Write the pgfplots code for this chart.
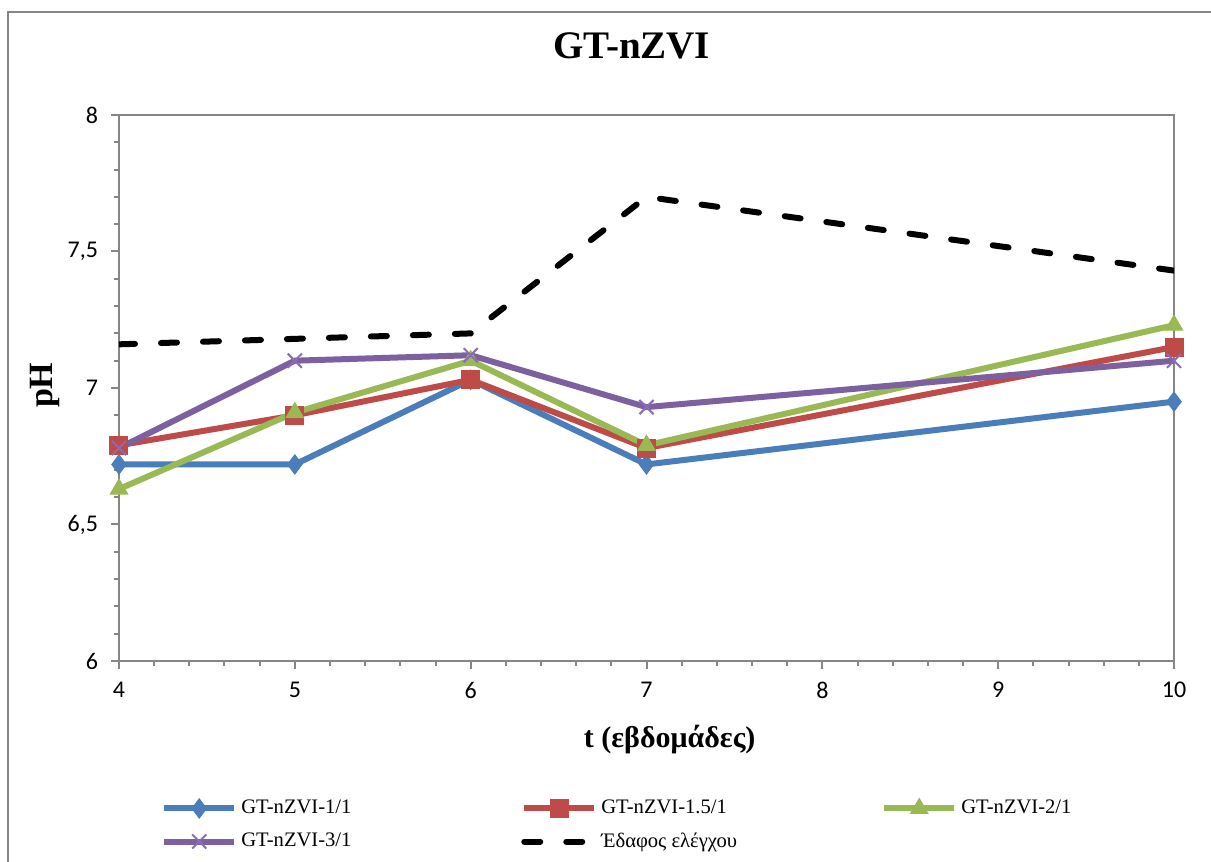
\documentclass[border=0pt]{standalone}
\usepackage{fontspec}
\setmainfont{Liberation Serif}
\newfontfamily\tickfont{Carlito}
\usepackage{pgfplots}
\pgfplotsset{compat=1.18}
\definecolor{cblue}{HTML}{4A7EBB}
\definecolor{cred}{HTML}{BE4B48}
\definecolor{cgreen}{HTML}{98B954}
\definecolor{cpurple}{HTML}{7D60A0}
\definecolor{cpurplemark}{HTML}{8A6CB4}
\definecolor{axgray}{HTML}{868686}
\begin{document}
\begin{tikzpicture}
\useasboundingbox (-59.5pt,-100.5pt) rectangle (546pt,330.5pt);
\draw[axgray, line width=1pt] (-55.5pt,-300pt) -- (-55.5pt,324.5pt) -- (800pt,324.5pt);
\begin{axis}[
  scale only axis, width=527.5pt, height=273pt,
  xmin=4, xmax=10, ymin=6, ymax=8,
  xtick={4,5,6,7,8,9,10}, ytick={6,6.5,7,7.5,8},
  minor x tick num=4, minor y tick num=4,
  tick pos=left, tick align=outside,
  major tick length=4pt, minor tick length=2.5pt,
  every tick/.style={axgray, line width=1pt},
  axis line style={axgray, line width=1pt},
  ticklabel style={font=\tickfont\fontsize{12}{14}\selectfont, text=black},
  yticklabel style={xshift=-3pt},
  xticklabel style={yshift=-3pt},
  /pgf/number format/assume math mode=true,
  /pgf/number format/use comma,
  title={GT-nZVI},
  title style={font=\bfseries\fontsize{19.5}{22}\selectfont, at={(axis description cs:0.486,1.104)}, anchor=center},
  xlabel={t (εβδομάδες)},
  xlabel style={font=\bfseries\fontsize{15}{17}\selectfont, at={(axis description cs:0.522,-0.1447)}, anchor=center},
  ylabel={pH},
  ylabel style={font=\bfseries\fontsize{17}{20}\selectfont, at={(axis description cs:-0.0701,0.505)}, anchor=center},
  legend columns=3,
  legend cell align=left,
  legend style={draw=none, fill=none, at={(axis description cs:0.034,-0.2395)}, anchor=north west,
    font=\fontsize{10.3}{12}\selectfont, row sep=4pt,
    /tikz/every even column/.append style={column sep=1pt}},
  legend image code/.code={\draw[mark repeat=2, mark phase=2] plot coordinates {(0pt,0pt) (17.5pt,0pt) (35pt,0pt)};},
]
\addplot[cblue, line width=3pt, mark=diamond*, mark size=4.8pt, mark options={solid, line width=0.5pt}]
  coordinates {(4,6.72)(5,6.72)(6,7.03)(7,6.72)(10,6.95)};
\addlegendentry{\makebox[137pt][l]{GT-nZVI-1/1}}
\addplot[cred, line width=3pt, mark=square*, mark size=4.5pt, mark options={solid, line width=0.5pt}]
  coordinates {(4,6.79)(5,6.90)(6,7.03)(7,6.78)(10,7.15)};
\addlegendentry{\makebox[137pt][l]{GT-nZVI-1.5/1}}
\addplot[cgreen, line width=3pt, mark=triangle*, mark size=5pt, mark options={solid, line width=0.5pt}]
  coordinates {(4,6.63)(5,6.91)(6,7.10)(7,6.79)(10,7.23)};
\addlegendentry{GT-nZVI-2/1}
\addplot[cpurple, line width=3pt, mark=x, mark size=5pt, mark options={solid, line width=1pt, cpurplemark}]
  coordinates {(4,6.78)(5,7.10)(6,7.12)(7,6.93)(10,7.10)};
\addlegendentry{\makebox[137pt][l]{GT-nZVI-3/1}}
\addplot[black, line width=3pt, dash pattern=on 8pt off 13pt, line cap=round, no markers]
  coordinates {(4,7.16)(5,7.18)(6,7.20)(7,7.70)(10,7.43)};
\addlegendentry{\makebox[137pt][l]{Έδαφος ελέγχου}}
\end{axis}
\end{tikzpicture}
\end{document}
